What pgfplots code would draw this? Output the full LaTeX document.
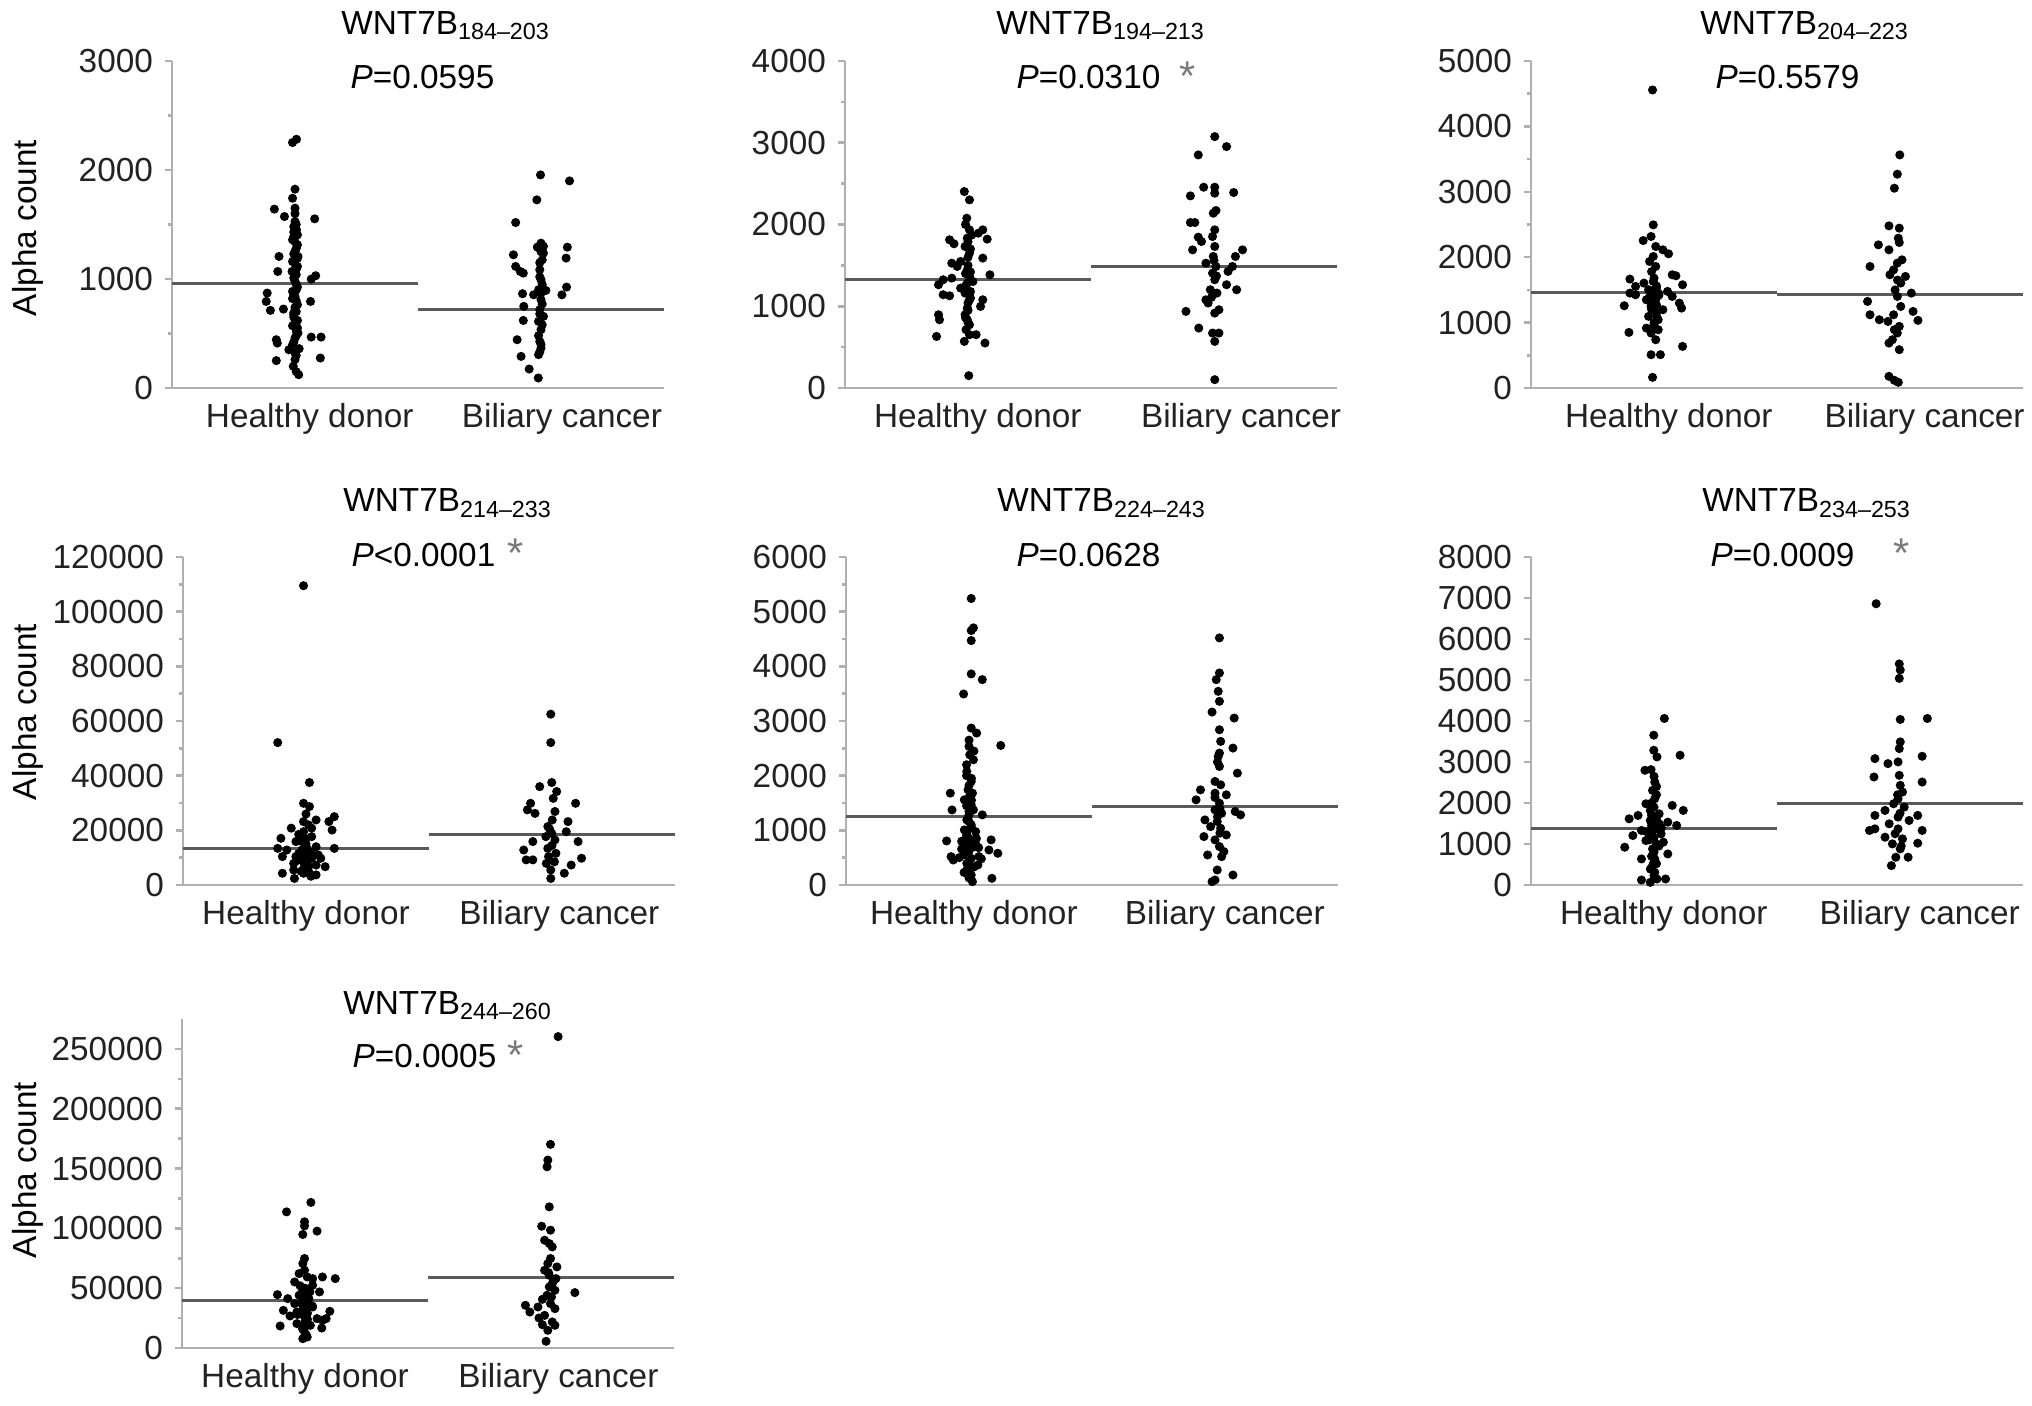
\documentclass[border=0pt]{standalone}
\usepackage{fontspec}
\setmainfont{Liberation Sans}
\usepackage{pgfplots}
\pgfplotsset{compat=1.18}
\definecolor{axgray}{HTML}{B0B0B0}
\definecolor{medgray}{HTML}{5A5A5A}
\definecolor{txt}{HTML}{222222}
\definecolor{astgray}{HTML}{7A7A7A}
\pgfplotsset{
  panel/.style={
    scale only axis, anchor=south west, width=147.6pt,
    xmin=0, xmax=2, ymin=0, clip=false,
    axis x line*=bottom, axis y line*=left,
    axis line style={draw=axgray, line width=0.75pt},
    xtick={0.55,1.6}, xticklabels={Healthy donor,Biliary cancer},
    xtick style={draw=none},
    ytick style={draw=axgray, line width=0.75pt},
    tick align=outside, major tick length=2.2pt, minor tick length=1.2pt,
    minor y tick num=1,
    scaled y ticks=false,
    /pgf/number format/fixed,
    /pgf/number format/1000 sep={},
    /pgf/number format/assume math mode=true,
    tick label style={font=\fontsize{10}{12}\selectfont, text=txt},
    xticklabel style={yshift=1pt},
  },
  dots/.style={only marks, mark=*, mark size=1.15pt, draw=black, fill=black},
  med/.style={no marks, draw=medgray, line width=0.9pt},
}
\begin{document}
\begin{tikzpicture}[font=\fontsize{10}{12}\selectfont]
\useasboundingbox (0,0) rectangle (609.6pt,421.5pt);

% Panel 1
\begin{axis}[panel, at={(51.6pt,305.1pt)}, height=98.1pt, ymax=3000, ytick={0,1000,2000,3000}, xtick={0.56,1.585}]
\addplot[med] coordinates {(0,962)(1,962)};
\addplot[med] coordinates {(1,724)(2,724)};
\addplot[dots] coordinates {(0.49,2252)(0.506,2282)(0.50,1824)(0.49,1741)(0.50,1650)(0.416,1641)(0.457,1573)(0.58,1552)(0.50,1528)(0.506,1451)(0.495,1390)(0.51,1314)(0.50,1253)(0.435,1207)(0.49,1161)(0.51,1115)(0.43,1069)(0.584,1030)(0.566,999)(0.50,978)(0.51,926)(0.49,886)(0.387,871)(0.50,840)(0.383,794)(0.563,794)(0.51,764)(0.40,712)(0.453,724)(0.495,672)(0.51,620)(0.49,571)(0.506,519)(0.424,443)(0.428,412)(0.566,467)(0.606,467)(0.50,458)(0.49,397)(0.475,351)(0.517,361)(0.424,251)(0.603,275)(0.493,199)(0.515,122)(0.50,321)(0.51,1405)(0.49,1360)(0.512,1207)(0.488,1069)(0.512,504)(0.495,1480)(0.505,1040)(0.495,690)(0.505,900)(0.51,550)(0.49,820)(0.51,1190)(0.50,1600)(0.505,1500)(0.495,1430)(0.50,1340)(0.505,1280)(0.495,1230)(0.50,1140)(0.505,1090)(0.495,1010)(0.505,950)(0.495,860)(0.505,800)(0.50,740)(0.505,700)(0.495,650)(0.50,600)(0.505,480)(0.495,420)(0.505,300)(0.50,260)(0.505,150)};
\addplot[dots] coordinates {(1.498,1955)(1.616,1900)(1.483,1726)(1.397,1518)(1.50,1329)(1.485,1292)(1.607,1292)(1.388,1222)(1.51,1237)(1.602,1192)(1.397,1115)(1.416,1069)(1.428,1054)(1.495,1085)(1.50,993)(1.604,926)(1.49,901)(1.425,865)(1.47,855)(1.585,855)(1.52,895)(1.50,810)(1.43,749)(1.495,718)(1.51,657)(1.428,620)(1.49,611)(1.50,535)(1.403,443)(1.495,428)(1.50,367)(1.49,306)(1.419,290)(1.452,174)(1.489,92)(1.505,1176)(1.51,1300)(1.495,1020)(1.505,770)(1.49,480)(1.50,1250)(1.495,1150)(1.505,950)(1.50,870)(1.495,680)(1.505,580)(1.50,400)(1.495,330)};
\end{axis}

% Panel 2
\begin{axis}[panel, at={(253.5pt,305.1pt)}, height=98.1pt, ymax=4000, ytick={0,1000,2000,3000,4000}, xtick={0.54,1.61}]
\addplot[med] coordinates {(0,1332)(1,1332)};
\addplot[med] coordinates {(1,1487)(2,1487)};
\addplot[dots] coordinates {(0.485,2403)(0.506,2301)(0.495,2077)(0.506,1935)(0.56,1935)(0.542,1894)(0.425,1813)(0.578,1821)(0.443,1764)(0.497,1833)(0.488,1731)(0.506,1650)(0.56,1589)(0.47,1548)(0.434,1527)(0.456,1487)(0.497,1446)(0.506,1365)(0.589,1385)(0.399,1324)(0.434,1344)(0.497,1283)(0.479,1222)(0.38,1263)(0.399,1141)(0.425,1128)(0.488,1161)(0.506,1079)(0.56,1079)(0.551,998)(0.497,978)(0.488,896)(0.38,896)(0.384,835)(0.497,835)(0.506,774)(0.492,713)(0.372,631)(0.506,652)(0.533,652)(0.485,570)(0.569,550)(0.503,151)(0.47,1222)(0.52,1303)(0.50,1600)(0.49,1400)(0.51,1180)(0.50,1040)(0.515,1870)(0.50,1500)(0.49,1250)(0.51,1100)(0.50,950)(0.49,860)(0.51,1700)(0.50,1790)(0.49,2000)(0.51,1420)(0.50,800)};
\addplot[dots] coordinates {(1.503,3075)(1.551,2953)(1.436,2851)(1.458,2456)(1.503,2456)(1.404,2350)(1.58,2391)(1.503,2383)(1.508,2171)(1.497,2138)(1.404,2024)(1.422,2024)(1.503,1935)(1.436,1845)(1.449,1792)(1.494,1853)(1.503,1731)(1.413,1690)(1.616,1690)(1.587,1609)(1.497,1609)(1.467,1527)(1.508,1487)(1.575,1487)(1.494,1405)(1.557,1426)(1.503,1324)(1.551,1263)(1.592,1202)(1.485,1202)(1.512,1161)(1.467,1079)(1.476,1039)(1.52,957)(1.386,937)(1.503,916)(1.438,733)(1.494,672)(1.52,672)(1.503,570)(1.503,102)(1.50,1560)(1.51,1370)(1.49,1110)};
\end{axis}

% Panel 3
\begin{axis}[panel, at={(459.3pt,305.1pt)}, height=98.1pt, ymax=5000, ytick={0,1000,2000,3000,4000,5000}, xtick={0.56,1.60}]
\addplot[med] coordinates {(0,1461)(1,1461)};
\addplot[med] coordinates {(1,1426)(2,1426)};
\addplot[dots] coordinates {(0.494,4557)(0.497,2495)(0.456,2255)(0.488,2317)(0.507,2164)(0.536,2113)(0.559,2052)(0.497,2011)(0.402,1665)(0.425,1553)(0.459,1604)(0.574,1731)(0.589,1716)(0.616,1578)(0.478,1502)(0.517,1451)(0.555,1477)(0.402,1451)(0.425,1426)(0.469,1349)(0.507,1349)(0.574,1400)(0.603,1298)(0.488,1247)(0.536,1197)(0.612,1222)(0.379,1258)(0.517,1044)(0.478,1095)(0.469,916)(0.517,891)(0.398,850)(0.616,636)(0.488,840)(0.507,738)(0.488,509)(0.526,509)(0.494,163)(0.497,1629)(0.507,1858)(0.482,1935)(0.50,1380)(0.49,1300)(0.51,1150)(0.50,1000)(0.49,1200)(0.51,1560)(0.50,1420)(0.49,1480)(0.51,1530)(0.50,1680)(0.49,1780)(0.51,1100)(0.50,960)(0.49,1320)(0.51,1270)(0.48,1380)(0.52,1420)};
\addplot[dots] coordinates {(1.499,3564)(1.489,3269)(1.477,3055)(1.455,2479)(1.497,2444)(1.493,2291)(1.497,2225)(1.412,2189)(1.455,2113)(1.378,1858)(1.489,1909)(1.508,1960)(1.474,1807)(1.459,1731)(1.522,1706)(1.503,1604)(1.546,1451)(1.489,1400)(1.368,1324)(1.503,1247)(1.553,1171)(1.474,1120)(1.378,1120)(1.416,1044)(1.451,1018)(1.573,1034)(1.497,942)(1.477,891)(1.469,738)(1.455,687)(1.497,586)(1.455,178)(1.493,87)(1.477,117)(1.489,840)(1.48,1500)(1.49,1650)};
\end{axis}

% Panel 4
\begin{axis}[panel, at={(54.9pt,156pt)}, height=98.4pt, ymax=120000, ytick={0,20000,40000,60000,80000,100000,120000}, xtick={0.50,1.53}]
\addplot[med] coordinates {(0,13400)(1,13400)};
\addplot[med] coordinates {(1,18600)(2,18600)};
\addplot[dots] coordinates {(0.49,109500)(0.385,52100)(0.514,37500)(0.49,29900)(0.514,28700)(0.615,25000)(0.593,23200)(0.541,23800)(0.49,23200)(0.44,20800)(0.398,17100)(0.523,20800)(0.606,20100)(0.523,17700)(0.459,15900)(0.385,13400)(0.422,12800)(0.541,14000)(0.615,13400)(0.483,12800)(0.404,10400)(0.459,10400)(0.523,9800)(0.56,9800)(0.45,7900)(0.505,7900)(0.578,6700)(0.541,7300)(0.404,4300)(0.45,5500)(0.514,4300)(0.453,2400)(0.477,9200)(0.501,14000)(0.49,4300)(0.541,3700)(0.50,11000)(0.48,16000)(0.52,12000)(0.49,6000)(0.47,18500)(0.49,8500)(0.51,6500)(0.47,11500)(0.53,10800)(0.50,15000)(0.49,19500)(0.51,22000)(0.50,26000)(0.48,5000)(0.52,3200)(0.46,8800)(0.55,11000)(0.50,17000)};
\addplot[dots] coordinates {(1.495,62500)(1.495,52100)(1.499,37500)(1.45,36000)(1.519,34200)(1.505,31700)(1.413,29900)(1.596,29900)(1.4,27500)(1.431,26200)(1.512,26900)(1.501,23800)(1.565,23200)(1.483,21400)(1.558,19500)(1.475,17700)(1.422,15900)(1.512,16500)(1.606,15900)(1.385,12800)(1.483,13400)(1.516,11600)(1.422,9200)(1.62,9800)(1.395,9200)(1.477,7900)(1.578,7300)(1.495,5500)(1.55,4300)(1.495,2400)(1.486,10400)(1.499,18900)(1.50,14500)(1.49,20500)(1.51,8500)};
\end{axis}

% Panel 5
\begin{axis}[panel, at={(253.8pt,156pt)}, height=98.4pt, ymax=6000, ytick={0,1000,2000,3000,4000,5000,6000}, xtick={0.52,1.54}]
\addplot[med] coordinates {(0,1252)(1,1252)};
\addplot[med] coordinates {(1,1435)(2,1435)};
\addplot[dots] coordinates {(0.509,5241)(0.518,4704)(0.509,4655)(0.509,4472)(0.509,3861)(0.554,3757)(0.478,3494)(0.509,2871)(0.531,2779)(0.629,2553)(0.5,2535)(0.503,2382)(0.518,2291)(0.491,2077)(0.509,1894)(0.496,1741)(0.424,1680)(0.514,1680)(0.481,1558)(0.509,1466)(0.431,1374)(0.554,1283)(0.5,1283)(0.491,1191)(0.509,1100)(0.481,1008)(0.527,977)(0.409,806)(0.59,825)(0.5,855)(0.481,703)(0.539,684)(0.581,641)(0.617,580)(0.427,519)(0.436,458)(0.509,489)(0.491,397)(0.536,367)(0.491,275)(0.509,183)(0.593,122)(0.514,61)(0.478,550)(0.518,1374)(0.5,1160)(0.49,2200)(0.51,1950)(0.5,1600)(0.49,900)(0.51,760)(0.5,620)(0.48,600)(0.52,700)(0.50,750)(0.47,800)(0.53,850)(0.49,950)(0.51,1050)(0.50,1350)(0.49,1450)(0.51,1550)(0.50,1820)(0.49,2000)(0.52,2450)(0.50,2650)(0.46,500)(0.54,520)(0.50,430)(0.52,330)(0.48,230)(0.50,130)(0.55,480)(0.47,660)(0.53,720)};
\addplot[dots] coordinates {(1.518,4520)(1.518,3879)(1.505,3757)(1.513,3543)(1.518,3360)(1.488,3164)(1.578,3054)(1.518,2840)(1.523,2627)(1.573,2505)(1.518,2413)(1.513,2352)(1.591,2046)(1.518,2169)(1.5,1894)(1.523,1833)(1.441,1741)(1.5,1680)(1.423,1558)(1.546,1650)(1.518,1497)(1.5,1374)(1.582,1344)(1.527,1313)(1.604,1283)(1.459,1191)(1.509,1161)(1.482,1069)(1.523,1038)(1.546,916)(1.455,886)(1.5,825)(1.518,703)(1.536,611)(1.47,550)(1.527,519)(1.509,275)(1.573,183)(1.5,92)(1.488,61)(1.51,1250)(1.52,950)(1.50,1600)(1.51,2250)(1.52,1400)};
\end{axis}

% Panel 6
\begin{axis}[panel, at={(459.3pt,156pt)}, height=98.4pt, ymax=8000, ytick={0,1000,2000,3000,4000,5000,6000,7000,8000}, minor y tick num=0, xtick={0.54,1.58}]
\addplot[med] coordinates {(0,1386)(1,1386)};
\addplot[med] coordinates {(1,1998)(2,1998)};
\addplot[dots] coordinates {(0.542,4062)(0.499,3654)(0.499,3287)(0.512,3124)(0.606,3165)(0.463,2798)(0.488,2814)(0.503,2512)(0.494,2308)(0.503,2104)(0.467,1982)(0.574,1941)(0.619,1819)(0.485,1819)(0.521,1737)(0.399,1615)(0.435,1697)(0.485,1574)(0.556,1533)(0.592,1452)(0.503,1370)(0.449,1330)(0.529,1248)(0.414,1207)(0.485,1166)(0.467,1085)(0.538,1044)(0.381,922)(0.494,881)(0.556,758)(0.449,636)(0.503,636)(0.494,473)(0.503,310)(0.449,122)(0.512,147)(0.547,147)(0.485,65)(0.521,1493)(0.5,1900)(0.49,1250)(0.51,1000)(0.5,800)(0.49,1450)(0.51,2200)(0.5,560)(0.485,390)(0.49,1700)(0.51,1600)(0.50,1350)(0.48,1100)(0.52,950)(0.50,1150)(0.49,2000)(0.51,2400)(0.50,2650)(0.49,700)(0.51,520)(0.50,230)(0.47,1300)(0.53,1400)};
\addplot[dots] coordinates {(1.403,6860)(1.497,5392)(1.501,5245)(1.497,5040)(1.501,4038)(1.611,4062)(1.501,3491)(1.497,3328)(1.59,3140)(1.398,3083)(1.451,2961)(1.492,3002)(1.497,2675)(1.394,2635)(1.59,2512)(1.501,2431)(1.51,2268)(1.492,2104)(1.474,1982)(1.517,1900)(1.439,1819)(1.398,1697)(1.572,1697)(1.492,1656)(1.537,1574)(1.456,1493)(1.398,1370)(1.492,1370)(1.59,1330)(1.376,1330)(1.439,1166)(1.51,1126)(1.469,1003)(1.572,1020)(1.501,881)(1.483,677)(1.533,677)(1.465,473)(1.49,2200)(1.50,1750)(1.48,1250)(1.505,950)};
\end{axis}

% Panel 7
\begin{axis}[panel, at={(54.6pt,17.1pt)}, height=98.7pt, ymax=275000, ytick={0,50000,100000,150000,200000,250000}, xtick={0.50,1.53}]
\addplot[med] coordinates {(0,39900)(1,39900)};
\addplot[med] coordinates {(1,58600)(2,58600)};
\addplot[dots] coordinates {(0.524,121700)(0.425,113800)(0.498,105500)(0.498,102100)(0.549,97700)(0.491,94900)(0.498,74800)(0.491,70600)(0.498,65000)(0.476,62200)(0.509,59400)(0.623,58000)(0.571,59400)(0.458,55200)(0.531,52500)(0.491,48300)(0.559,46900)(0.388,44600)(0.43,41300)(0.516,41300)(0.458,37100)(0.531,34300)(0.412,31500)(0.601,30700)(0.467,30100)(0.495,27300)(0.439,26800)(0.549,24600)(0.571,23200)(0.586,24600)(0.399,18400)(0.467,20400)(0.522,19000)(0.568,16700)(0.498,13400)(0.509,9200)(0.491,7800)(0.476,44100)(0.531,58000)(0.5,50000)(0.49,36000)(0.51,29000)(0.5,22000)(0.49,16000)(0.505,11000)(0.50,45000)(0.49,40000)(0.51,33000)(0.50,26000)(0.48,52000)(0.52,47000)(0.50,38000)(0.49,31000)(0.51,24000)(0.50,18000)(0.47,28000)(0.53,35000)};
\addplot[dots] coordinates {(1.529,260300)(1.498,170200)(1.487,157100)(1.484,151500)(1.493,118000)(1.462,101800)(1.498,98500)(1.474,90100)(1.493,87300)(1.505,84500)(1.498,74800)(1.487,70600)(1.524,67800)(1.474,65000)(1.493,60800)(1.52,58000)(1.505,53800)(1.493,51100)(1.516,48300)(1.597,46300)(1.484,44100)(1.465,40700)(1.498,37100)(1.396,35700)(1.447,34300)(1.516,32900)(1.414,30100)(1.474,27300)(1.451,25100)(1.505,21800)(1.465,19500)(1.516,19000)(1.487,14800)(1.48,5600)(1.502,42700)(1.49,63000)(1.51,56000)};
\end{axis}

% Titles, P values, y labels (image pixel frame, 0.3pt per px)
\begin{scope}[x=0.3pt,y=0.3pt]
\node[anchor=base, inner sep=0] at (446,1370) {WNT7B\textsubscript{184--203}};
\node[anchor=base, inner sep=0] at (1101,1370) {WNT7B\textsubscript{194--213}};
\node[anchor=base, inner sep=0] at (1805,1370) {WNT7B\textsubscript{204--223}};
\node[anchor=base, inner sep=0] at (448,893) {WNT7B\textsubscript{214--233}};
\node[anchor=base, inner sep=0] at (1102,893) {WNT7B\textsubscript{224--243}};
\node[anchor=base, inner sep=0] at (1807,893) {WNT7B\textsubscript{234--253}};
\node[anchor=base, inner sep=0] at (448,391) {WNT7B\textsubscript{244--260}};

\node[anchor=base west, inner sep=0] at (350,1316) {\textit{P}=0.0595};
\node[anchor=base west, inner sep=0] at (1016,1316) {\textit{P}=0.0310};
\node[anchor=base, inner sep=0, text=astgray, scale=1.25] at (1188,1314) {*};
\node[anchor=base west, inner sep=0] at (1715,1316) {\textit{P}=0.5579};
\node[anchor=base west, inner sep=0] at (351,839) {\textit{P}<0.0001};
\node[anchor=base, inner sep=0, text=astgray, scale=1.25] at (516,837) {*};
\node[anchor=base west, inner sep=0] at (1016,839) {\textit{P}=0.0628};
\node[anchor=base west, inner sep=0] at (1710,839) {\textit{P}=0.0009};
\node[anchor=base, inner sep=0, text=astgray, scale=1.25] at (1902,837) {*};
\node[anchor=base west, inner sep=0] at (352,338) {\textit{P}=0.0005};
\node[anchor=base, inner sep=0, text=astgray, scale=1.25] at (516,336) {*};

\node[rotate=90, inner sep=0] at (28,1177) {Alpha count};
\node[rotate=90, inner sep=0] at (28,693) {Alpha count};
\node[rotate=90, inner sep=0] at (28,235) {Alpha count};
\end{scope}
\end{tikzpicture}
\end{document}
